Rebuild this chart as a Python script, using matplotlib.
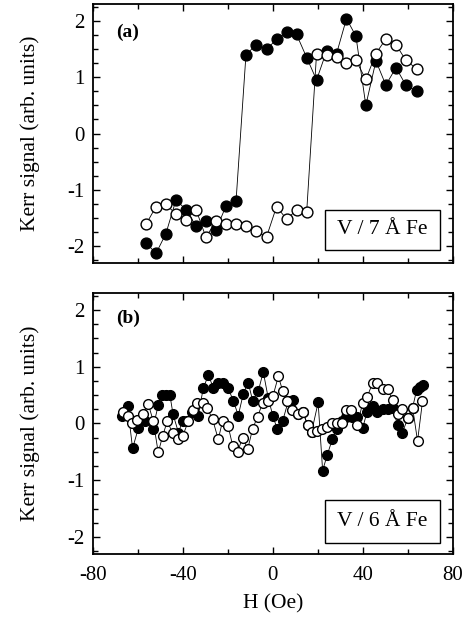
import numpy as np
import matplotlib
matplotlib.use('Agg')
import matplotlib.pyplot as plt
import matplotlib.patches as patches
from matplotlib.ticker import MultipleLocator

plt.rcParams['font.family'] = ['Liberation Serif', 'DejaVu Serif']
plt.rcParams['axes.unicode_minus'] = False

# panel (a): V / 7 A Fe
h_a = [-56.4, -52.0, -47.6, -43.1, -38.7, -34.2, -29.8, -25.3, -20.9, -16.4,
       -12.0, -7.6, -2.8, 1.6, 6.1, 10.5, 15.0, 19.4, 23.9, 28.3,
       32.7, 36.9, 41.3, 45.8, 50.2, 54.7, 59.1, 63.9]
filled_a = [-1.94, -2.13, -1.78, -1.18, -1.35, -1.64, -1.56, -1.71, -1.29, -1.20,
            1.39, 1.58, 1.50, 1.67, 1.80, 1.76, 1.35, 0.95, 1.47, 1.42,
            2.04, 1.73, 0.50, 1.29, 0.86, 1.17, 0.86, 0.75]
open_a = [-1.61, -1.30, -1.26, -1.43, -1.54, -1.35, -1.84, -1.56, -1.60, -1.61,
          -1.64, -1.74, -1.83, -1.30, -1.52, -1.36, -1.40, 1.42, 1.40, 1.36,
          1.26, 1.30, 0.96, 1.42, 1.68, 1.58, 1.30, 1.15]

# panel (b): V / 6 A Fe
h_b_filled = [-67.0, -64.6, -62.4, -59.8, -56.8, -53.4, -51.0, -49.2, -47.4, -45.8,
              -44.4, -42.0, -40.2, -38.2, -35.8, -33.2, -31.0, -28.7, -26.5, -24.3,
              -22.1, -19.9, -17.6, -15.4, -13.2, -11.0, -9.0, -6.5, -4.3, -2.1,
              0.0, 1.9, 4.3, 6.8, 9.0, 11.3, 13.2, 15.4, 17.2, 20.1,
              22.1, 24.1, 26.4, 28.6, 30.5, 32.7, 35.0, 37.2, 39.9, 41.9,
              44.3, 46.4, 48.8, 51.0, 53.2, 55.4, 57.6, 59.9, 62.1, 63.9,
              65.6, 66.8]
filled_b = [0.14, 0.30, -0.44, -0.08, 0.04, -0.09, 0.32, 0.50, 0.50, 0.50,
            0.16, -0.16, 0.04, 0.04, 0.20, 0.13, 0.62, 0.85, 0.63, 0.72,
            0.72, 0.62, 0.40, 0.14, 0.52, 0.72, 0.40, 0.57, 0.91, 0.45,
            0.13, -0.10, 0.04, 0.39, 0.42, 0.16, 0.21, -0.02, -0.15, 0.37,
            -0.83, -0.56, -0.28, -0.09, 0.04, 0.12, 0.12, 0.12, -0.08, 0.21,
            0.30, 0.21, 0.26, 0.26, 0.27, -0.02, -0.16, 0.09, 0.28, 0.59,
            0.65, 0.68]
h_b_open = [-66.8, -64.5, -62.8, -60.3, -57.6, -55.4, -53.2, -51.0, -49.0, -47.0,
            -44.6, -42.1, -40.1, -37.6, -35.7, -33.6, -31.3, -29.2, -26.8, -24.3,
            -22.4, -19.9, -17.9, -15.7, -13.5, -11.2, -9.0, -6.8, -4.6, -2.1,
            0.0, 2.4, 4.3, 6.4, 8.7, 11.3, 13.2, 15.4, 17.2, 19.4,
            21.6, 23.9, 26.1, 28.3, 30.5, 32.4, 34.6, 37.5, 39.9, 41.9,
            44.3, 46.4, 48.8, 51.0, 53.2, 55.4, 57.6, 59.9, 62.1, 64.3,
            66.5]
open_b = [0.21, 0.13, 0.01, 0.06, 0.16, 0.34, 0.04, -0.51, -0.22, 0.04,
          -0.17, -0.27, -0.22, 0.04, 0.24, 0.36, 0.36, 0.27, 0.07, -0.28,
          0.04, -0.05, -0.39, -0.50, -0.25, -0.45, -0.09, 0.12, 0.36, 0.39,
          0.48, 0.83, 0.58, 0.39, 0.24, 0.16, 0.21, -0.02, -0.15, -0.13,
          -0.09, -0.06, 0.01, 0.01, 0.01, 0.23, 0.23, -0.03, 0.36, 0.47,
          0.71, 0.72, 0.60, 0.60, 0.42, 0.17, 0.26, 0.09, 0.28, -0.31,
          0.39]

fig = plt.figure(figsize=(4.64, 6.18), dpi=100)
ax_a = fig.add_axes([0.2004, 0.5744, 0.7756, 0.4191])
ax_b = fig.add_axes([0.2004, 0.1036, 0.7756, 0.4224])

def style(ax):
    ax.set_xlim(-80, 80)
    ax.set_ylim(-2.3, 2.3)
    ax.xaxis.set_major_locator(MultipleLocator(40))
    ax.xaxis.set_minor_locator(MultipleLocator(20))
    ax.yaxis.set_major_locator(MultipleLocator(1))
    ax.yaxis.set_minor_locator(MultipleLocator(0.25))
    ax.tick_params(which='both', direction='in', top=True, right=True,
                   labelsize=15, width=1.0)
    ax.tick_params(which='major', length=5, pad=6)
    ax.tick_params(which='minor', length=3.5)
    ax.tick_params(axis='x', which='major', pad=9)
    for s in ax.spines.values():
        s.set_linewidth(1.3)
    ax.set_ylabel('Kerr signal (arb. units)', fontsize=15.5, labelpad=20)

def series(ax, x, y, face, ms):
    ax.plot(x, y, '-', color='black', lw=0.6, marker='o', ms=ms,
            mfc=face, mec='black', mew=1.0)

series(ax_a, h_a, filled_a, 'black', 7.8)
series(ax_a, h_a, open_a, 'white', 7.8)
series(ax_b, h_b_filled, filled_b, 'black', 7.0)
series(ax_b, h_b_open, open_b, 'white', 7.0)

style(ax_a)
style(ax_b)
ax_a.set_xticklabels([])
ax_b.set_xlabel('H (Oe)', fontsize=15.5, labelpad=6)

ax_a.text(0.064, 0.89, '(a)', transform=ax_a.transAxes, fontsize=14,
          fontweight='bold', va='center', ha='left')
ax_b.text(0.064, 0.904, '(b)', transform=ax_b.transAxes, fontsize=14,
          fontweight='bold', va='center', ha='left')

for ax, label, y0, y1 in [(ax_a, 'V / 7 Å Fe', 0.05, 0.205),
                          (ax_b, 'V / 6 Å Fe', 0.042, 0.207)]:
    r = patches.Rectangle((0.644, y0), 0.964 - 0.644, y1 - y0,
                          transform=ax.transAxes, fill=True, fc='white',
                          ec='black', lw=1.0, zorder=5)
    ax.add_patch(r)
    ax.text((0.644 + 0.964) / 2, (y0 + y1) / 2, label, transform=ax.transAxes,
            fontsize=15.5, ha='center', va='center', zorder=6)

fig.savefig('out.png', dpi=100)
